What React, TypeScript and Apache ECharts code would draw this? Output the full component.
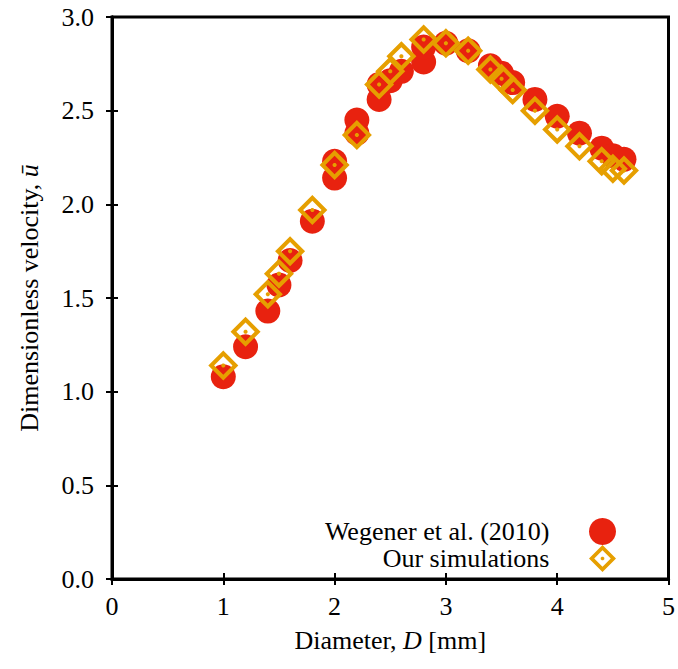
import React, { useEffect, useRef } from "react";
import * as echarts from "echarts";

const wegenerD = [1.0, 1.2, 1.4, 1.5, 1.6, 1.8, 2.0, 2.0, 2.2, 2.2, 2.4, 2.4, 2.5, 2.6, 2.8, 2.8, 3.0, 3.2, 3.4, 3.5, 3.6, 3.8, 4.0, 4.2, 4.4, 4.5, 4.6];
const wegenerU = [1.08, 1.24, 1.43, 1.57, 1.7, 1.91, 2.14, 2.23, 2.45, 2.38, 2.56, 2.64, 2.66, 2.71, 2.76, 2.84, 2.86, 2.82, 2.74, 2.7, 2.65, 2.56, 2.47, 2.38, 2.3, 2.26, 2.24];

const simD = [1.0, 1.2, 1.4, 1.5, 1.6, 1.8, 2.0, 2.2, 2.4, 2.5, 2.6, 2.8, 3.0, 3.2, 3.4, 3.5, 3.6, 3.8, 4.0, 4.2, 4.4, 4.5, 4.6];
const simU = [1.14, 1.32, 1.52, 1.63, 1.75, 1.97, 2.21, 2.37, 2.64, 2.71, 2.79, 2.88, 2.86, 2.82, 2.72, 2.67, 2.61, 2.5, 2.4, 2.31, 2.23, 2.19, 2.18];

const seriesNames = ["Wegener et al. (2010)", "Our simulations"];
const xTicks = { min: 0, max: 5, interval: 1 };
const yTicks = { min: 0, max: 3, interval: 0.5 };

const FONT = "'Liberation Serif', 'Times New Roman', serif";
const RED = "#e8220f";
const ORANGE = "#e69f00";

// hollow diamond (outer clockwise, inner counter-clockwise) with a centre dot
const diamondPath =
  "path://M0,-15 L15,0 L0,15 L-15,0 Z M0,-9.2 L-9.2,0 L0,9.2 L9.2,0 Z " +
  "M-2,-0.8 L-0.8,-2 L0.8,-2 L2,-0.8 L2,0.8 L0.8,2 L-0.8,2 L-2,0.8 Z";

export default function App() {
  const ref = useRef<HTMLDivElement>(null);
  useEffect(() => {
    if (!ref.current) return;
    const chart = echarts.init(ref.current, null, { renderer: "svg" });
    const tickStyle = { show: true, inside: true, length: 6, lineStyle: { color: "#000", width: 2 } };
    const axisLine = { show: true, lineStyle: { color: "#000", width: 3 } };
    chart.setOption({
      animation: false,
      backgroundColor: "#fff",
      grid: { left: 112, right: 8, top: 17, bottom: 90, show: true, borderColor: "#000", borderWidth: 3 },
      legend: {
        orient: "vertical",
        right: 57,
        bottom: 92,
        align: "right",
        itemWidth: 96,
        itemHeight: 27,
        itemGap: 0,
        data: seriesNames,
        textStyle: { fontFamily: FONT, fontSize: 26, color: "#000" },
      },
      xAxis: [
        {
          type: "value",
          ...xTicks,
          position: "bottom",
          splitLine: { show: false },
          axisLine,
          axisTick: tickStyle,
          axisLabel: { margin: 14, fontFamily: FONT, fontSize: 26, color: "#000" },
          name: "Diameter, {i|D} [mm]",
          nameLocation: "middle",
          nameGap: 48,
          nameTextStyle: {
            fontFamily: FONT,
            fontSize: 26,
            color: "#000",
            rich: { i: { fontFamily: FONT, fontSize: 26, fontStyle: "italic", color: "#000" } },
          },
        },
        {
          type: "value",
          ...xTicks,
          position: "top",
          splitLine: { show: false },
          axisLine,
          axisTick: tickStyle,
          axisLabel: { show: false },
        },
      ],
      yAxis: [
        {
          type: "value",
          ...yTicks,
          position: "left",
          splitLine: { show: false },
          axisLine,
          axisTick: tickStyle,
          axisLabel: {
            margin: 18,
            fontFamily: FONT,
            fontSize: 26,
            color: "#000",
            formatter: (v: number) => v.toFixed(1),
          },
          name: "Dimensionless velocity, {i|ū}",
          nameLocation: "middle",
          nameGap: 70,
          nameTextStyle: {
            fontFamily: FONT,
            fontSize: 26,
            color: "#000",
            rich: { i: { fontFamily: FONT, fontSize: 26, fontStyle: "italic", color: "#000" } },
          },
        },
        {
          type: "value",
          ...yTicks,
          position: "right",
          splitLine: { show: false },
          axisLine,
          axisTick: tickStyle,
          axisLabel: { show: false },
        },
      ],
      series: [
        {
          name: seriesNames[0],
          type: "scatter",
          symbol: "circle",
          symbolSize: 25,
          itemStyle: { color: RED, opacity: 1 },
          data: wegenerD.map((d, i) => [d, wegenerU[i]]),
          z: 2,
        },
        {
          name: seriesNames[1],
          type: "scatter",
          symbol: diamondPath,
          symbolSize: 30,
          symbolKeepAspect: true,
          itemStyle: { color: ORANGE, opacity: 1 },
          data: simD.map((d, i) => [d, simU[i]]),
          z: 3,
        },
      ],
    });
    return () => chart.dispose();
  }, []);
  return <div ref={ref} style={{ width: 678, height: 669, position: "absolute", left: 0, top: 0 }} />;
}
